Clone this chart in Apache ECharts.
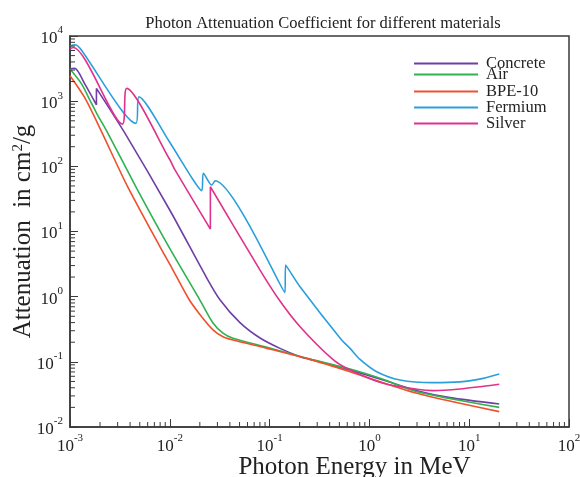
<!DOCTYPE html>
<html><head><meta charset="utf-8">
<script src="https://cdn.jsdelivr.net/npm/echarts/dist/echarts.min.js"></script>
<style>html,body{margin:0;padding:0;background:#fff}#c{width:580px;height:477px}</style>
</head><body><div id="c"></div>
<script>
// ---- data (Photon energy in MeV, attenuation in cm^2/g) ----
const seriesNames = ['Concrete', 'Air', 'BPE-10', 'Fermium', 'Silver'];
const concrete = [[0.001,3150],[0.00112,3190],[0.00141,1830],[0.00184,880],[0.00184,1570],[0.00356,320],[0.01005,21.0],[0.0234,1.95],[0.0318,0.90],[0.0505,0.400],[0.0802,0.232],[0.127,0.161],[0.202,0.120],[0.254,0.109],[0.43,0.089],[0.64,0.075],[1.37,0.0526],[3.0,0.0361],[6.43,0.0282],[20,0.0225]];
const air = [[0.001,3110],[0.00131,1830],[0.00158,1042],[0.00185,652],[0.00242,313],[0.00466,46],[0.01005,5.4],[0.0201,0.88],[0.0271,0.395],[0.0341,0.276],[0.043,0.230],[0.0942,0.167],[0.254,0.110],[0.64,0.0776],[1.37,0.054],[3.0,0.0348],[20,0.0200]];
const bpe10 = [[0.001,2460],[0.00141,1120],[0.00208,335],[0.0037,52],[0.00798,5.8],[0.01005,3.1],[0.0155,0.92],[0.0201,0.53],[0.0271,0.310],[0.0341,0.243],[0.043,0.216],[0.0942,0.161],[0.254,0.109],[0.64,0.0706],[3.0,0.0329],[20,0.0172]];
const fermium = [[0.001,7000],[0.00112,7345],[0.00126,6470],[0.00458,457],[0.00491,1169],[0.00966,254],[0.01718,61.7],[0.0209,42.3],[0.0217,78.2],[0.0263,51.6],[0.0284,60.1],[0.1426,1.15],[0.1445,3.06],[0.2018,1.42],[0.527,0.216],[0.64,0.161],[0.805,0.109],[1.183,0.0706],[2.028,0.0526],[4.34,0.0479],[8.09,0.0493],[13.84,0.0558],[20,0.0650]];
const silver = [[0.001,6400],[0.00108,6650],[0.00335,445],[0.0037,1570],[0.01005,125],[0.01127,88],[0.0255,10.9],[0.0255,48.6],[0.0802,2.56],[0.125,0.889],[0.202,0.346],[0.43,0.109],[0.64,0.075],[1.37,0.0469],[3.0,0.0379],[4.34,0.0361],[8.09,0.0383],[20,0.0452]];
const xDecades = [0.001, 0.01, 0.1, 1, 10, 100];
const yDecades = [0.01, 0.1, 1, 10, 100, 1000, 10000];
const minorMultipliers = [2,3,4,5,6,7,8,9];

const colors = ['#6f3fa6', '#2fb24f', '#f0502c', '#2a9fdc', '#e0328c'];
const dataSets = [concrete, air, bpe10, fermium, silver];
const serif = "'Liberation Serif','Times New Roman','DejaVu Serif',serif";
const axisColor = '#3a3a3a';

const xMinor = [];
xDecades.slice(0, -1).forEach(d => minorMultipliers.forEach(m => xMinor.push([d * m, 0.01])));
const yMinor = [];
yDecades.slice(0, -1).forEach(d => minorMultipliers.forEach(m => yMinor.push([0.001, d * m])));

function expLabel(v) {
  const e = Math.round(Math.log10(v));
  return '{b|10}{s|' + e + '}';
}
const labelRich = {
  b: { fontFamily: serif, fontSize: 17, color: '#222', lineHeight: 22, verticalAlign: 'bottom' },
  s: { fontFamily: serif, fontSize: 11, color: '#222', lineHeight: 11, verticalAlign: 'top' }
};

const legendTops = [55, 66, 83, 99, 115];
const legends = seriesNames.map((n, i) => ({
  data: [n], left: 414, top: legendTops[i], padding: 0,
  itemWidth: 64, itemHeight: 2, icon: 'rect', itemGap: 0,
  textStyle: { fontFamily: serif, fontSize: 16.5, color: '#222', padding: [0,0,0,3] },
  selectedMode: false
}));

const lineSeries = seriesNames.map((n, i) => ({
  name: n, type: 'line', data: dataSets[i], showSymbol: false, symbol: 'none',
  smooth: 0.25, color: colors[i], lineStyle: { width: 1.6, color: colors[i] }, z: 3
}));

function tickRenderer(dir) {
  return function (params, api) {
    const p = api.coord([api.value(0), api.value(1)]);
    const len = 5;
    return {
      type: 'line',
      shape: dir === 'x' ? { x1: p[0], y1: p[1], x2: p[0], y2: p[1] - len } : { x1: p[0], y1: p[1], x2: p[0] + len, y2: p[1] },
      style: { stroke: axisColor, lineWidth: 1 }
    };
  };
}

const option = {
  backgroundColor: '#fff',
  animation: false,
  title: {
    text: 'Photon Attenuation Coefficient for different materials',
    left: 318, top: 10, textAlign: 'center',
    textStyle: { fontFamily: serif, fontSize: 16.5, fontWeight: 'normal', color: '#222' }
  },
  legend: legends,
  grid: { left: 70, right: 11, top: 36, bottom: 50, containLabel: false, outerBoundsMode: 'none', show: true, borderColor: axisColor, borderWidth: 1.5, backgroundColor: 'transparent' },
  xAxis: {
    type: 'log', logBase: 10, min: xDecades[0], max: xDecades[xDecades.length - 1], splitNumber: 5,
    axisLine: { show: true, lineStyle: { color: axisColor, width: 1.5 } },
    axisTick: { show: true, inside: true, length: 8, lineStyle: { color: axisColor, width: 1 } },
    minorTick: { show: false }, splitLine: { show: false },
    axisLabel: { formatter: expLabel, rich: labelRich, margin: 6, showMinLabel: true, showMaxLabel: true },
    name: 'Photon Energy in MeV', nameLocation: 'middle', nameGap: 28, nameMoveOverlap: false,
    nameTextStyle: { fontFamily: serif, fontSize: 25, color: '#222', padding: [0, 0, 0, 70] }
  },
  yAxis: {
    type: 'log', logBase: 10, min: yDecades[0], max: yDecades[yDecades.length - 1], splitNumber: 6,
    axisLine: { show: true, lineStyle: { color: axisColor, width: 1.5 } },
    axisTick: { show: true, inside: true, length: 8, lineStyle: { color: axisColor, width: 1 } },
    minorTick: { show: false }, splitLine: { show: false },
    axisLabel: { formatter: expLabel, rich: labelRich, margin: 7, showMinLabel: true, showMaxLabel: true },
    name: 'Attenuation  in cm{s|2}/g', nameLocation: 'middle', nameGap: 34, nameMoveOverlap: false,
    nameTextStyle: { fontFamily: serif, fontSize: 25, color: '#222',
      rich: { s: { fontFamily: serif, fontSize: 15, color: '#222', verticalAlign: 'top', lineHeight: 15 } } }
  },
  series: lineSeries.concat([
    { type: 'custom', silent: true, data: xMinor, renderItem: tickRenderer('x'), clip: false, z: 5 },
    { type: 'custom', silent: true, data: yMinor, renderItem: tickRenderer('y'), clip: false, z: 5 }
  ])
};

const chart = echarts.init(document.getElementById('c'), null, { renderer: 'canvas' });
chart.setOption(option);
</script></body></html>
